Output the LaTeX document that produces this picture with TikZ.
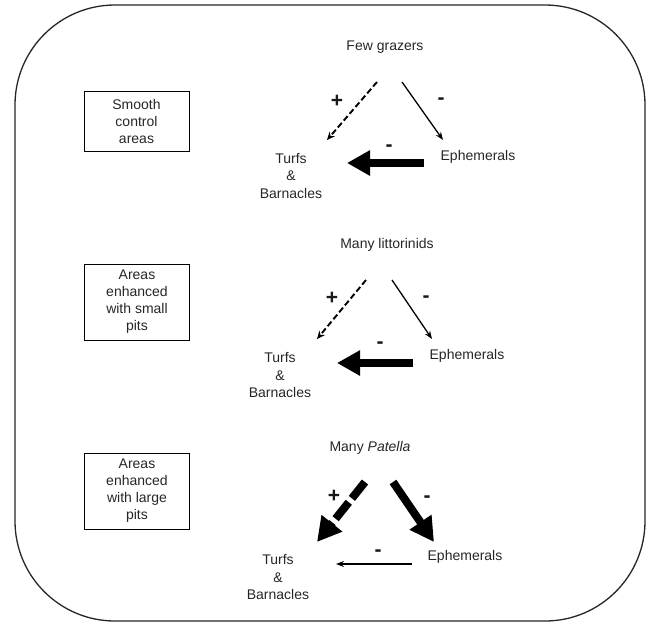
\documentclass[tikz,border=0pt]{standalone}
\usepackage{fontspec}
\setmainfont{Liberation Sans}
\usetikzlibrary{arrows.meta}
\begin{document}
\begin{tikzpicture}[x=1pt,y=-1pt,
  lbl/.style={inner sep=0pt,font=\fontsize{14}{17.5}\selectfont,align=center,text=black!85},
  sgn/.style={inner sep=0pt,font=\fontsize{21}{21}\selectfont\bfseries,text=black!90},
  areabox/.style={draw,line width=1pt,minimum width=105pt,inner sep=2pt,font=\fontsize{14}{17}\selectfont,align=center,text=black!85},
  thinarr/.style={line width=1.3pt,-{Stealth[length=8pt,width=6pt]}},
  thindash/.style={line width=1.9pt,dash pattern=on 6pt off 3pt,-{Stealth[length=8pt,width=7pt]}},
  thickarr/.style={line width=8pt,-{Triangle[length=23pt,width=24pt]}},
  thickdash/.style={line width=8pt,dash pattern=on 21pt off 5pt,-{Triangle[length=24pt,width=25pt]}}
]
\useasboundingbox (0,0) rectangle (648,624);
\draw[line width=1.3pt,black!85,rounded corners=100pt] (15,5) rectangle (645,621);

% boxes
\node[areabox,minimum height=60pt] (b1) at (136.5,121) {Smooth\\control\\areas};
\node[areabox,minimum height=76pt] (b2) at (137,302) {Areas\\enhanced\\with small\\pits};
\node[areabox,minimum height=76pt] (b3) at (137,491) {Areas\\enhanced\\with large\\pits};

% panel 1
\node[lbl] (g1) at (385,47) {Few grazers};
\node[lbl] (e1) at (478,157) {Ephemerals};
\node[lbl] (t1) at (291,176) {Turfs\\\&\\Barnacles};
\coordinate (g1l) at (377,82); \coordinate (g1le) at (327,140);
\coordinate (g1r) at (402,82); \coordinate (g1re) at (443,140);
\coordinate (e1s) at (424,163); \coordinate (e1e) at (347,163);
\draw[thindash] (g1l) -- (g1le);
\draw[thinarr] (g1r) -- (g1re);
\draw[thickarr] (e1s) -- (e1e);
\node[sgn] (p1) at (337,101) {+};
\node[sgn] (m1) at (441,101) {-};
\node[sgn] (n1) at (389,148) {-};

% panel 2
\node[lbl] (g2) at (387,245) {Many littorinids};
\node[lbl] (e2) at (467,356) {Ephemerals};
\node[lbl] (t2) at (280,375) {Turfs\\\&\\Barnacles};
\coordinate (g2l) at (366,280); \coordinate (g2le) at (317,339);
\coordinate (g2r) at (392,280); \coordinate (g2re) at (432,339);
\coordinate (e2s) at (413,363); \coordinate (e2e) at (337,363);
\draw[thindash] (g2l) -- (g2le);
\draw[thinarr] (g2r) -- (g2re);
\draw[thickarr] (e2s) -- (e2e);
\node[sgn] (p2) at (332,298) {+};
\node[sgn] (m2) at (426,299) {-};
\node[sgn] (n2) at (380,345) {-};

% panel 3
\node[lbl] (g3) at (370,448) {Many \textit{Patella}};
\node[lbl] (e3) at (465,557) {Ephemerals};
\node[lbl] (t3) at (278,577) {Turfs\\\&\\Barnacles};
\coordinate (g3l) at (365,482); \coordinate (g3le) at (317,542);
\coordinate (g3r) at (393,482); \coordinate (g3re) at (434,542);
\coordinate (e3s) at (412,564); \coordinate (e3e) at (336,564);
\draw[thickdash] (g3l) -- (g3le);
\draw[thickarr,-{Triangle[length=24pt,width=25pt]}] (g3r) -- (g3re);
\draw[thinarr,line width=1.6pt] (e3s) -- (e3e);
\node[sgn] (p3) at (334,496) {+};
\node[sgn] (m3) at (427,499) {-};
\node[sgn] (n3) at (378,553) {-};
\end{tikzpicture}
\end{document}
